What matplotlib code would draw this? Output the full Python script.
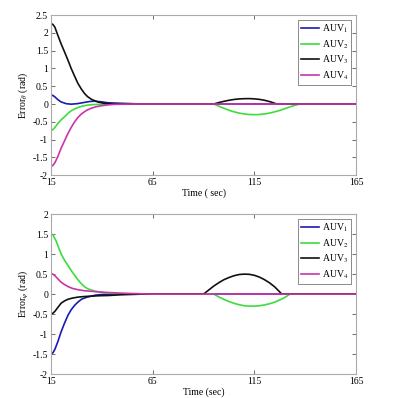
import matplotlib
matplotlib.use('Agg')
import matplotlib.pyplot as plt

plt.rcParams['font.family'] = ['Liberation Serif', 'DejaVu Serif']
plt.rcParams['mathtext.fontset'] = 'stix'

labels = ['AUV$_1$', 'AUV$_2$', 'AUV$_3$', 'AUV$_4$']
colors = ['#1a1ab4', '#3ddc3d', '#111111', '#cc33aa']

# top panel: theta error
t1_auv1 = [15, 16, 17, 18.5, 20, 22.5, 25, 28, 31, 34, 36.5, 40, 43, 49.5, 60, 165]
e1_auv1 = [0.25, 0.24, 0.2, 0.12, 0.06, 0.01, -0.005, 0.01, 0.04, 0.07, 0.08, 0.06, 0.035, 0.02, 0.0, 0.0]
t1_auv2 = [15, 16, 17, 18.4, 20, 21.7, 23.5, 25, 26.7, 28.3, 30.5, 33.2, 36, 39.8, 50,
           95, 97.5, 100, 102.5, 105, 107.5, 110, 112.5, 115, 117.5, 120, 122.5, 125, 127.5,
           130, 132.5, 135, 137.5, 165]
e1_auv2 = [-0.74, -0.72, -0.66, -0.55, -0.45, -0.36, -0.26, -0.19, -0.14, -0.1, -0.06, -0.03, -0.015, -0.01, 0.0,
           0.0, -0.06, -0.12, -0.175, -0.22, -0.255, -0.28, -0.295, -0.3, -0.295, -0.28, -0.255,
           -0.22, -0.18, -0.13, -0.08, -0.035, 0.0, 0.0]
t1_auv3 = [15, 16, 17, 18.4, 20, 21.7, 23.5, 25, 26.7, 28.3, 30, 31.5, 33, 35, 38, 41, 45, 50,
           95, 97.5, 100, 102.5, 105, 107.5, 110, 112.5, 115, 117.5, 120, 123, 126, 165]
e1_auv3 = [2.26, 2.24, 2.16, 1.94, 1.7, 1.47, 1.22, 1.0, 0.78, 0.58, 0.42, 0.3, 0.21, 0.13, 0.06, 0.02, 0.005, 0.0,
           0.0, 0.04, 0.075, 0.105, 0.128, 0.143, 0.15, 0.152, 0.145, 0.13, 0.105, 0.06, 0.0, 0.0]
t1_auv4 = [15, 16, 17, 18.5, 20, 21.7, 23.4, 25, 26.7, 28.3, 30, 32.5, 34.8, 37, 39.7, 43, 46, 55, 165]
e1_auv4 = [-1.75, -1.73, -1.65, -1.47, -1.25, -1.04, -0.83, -0.66, -0.5, -0.38, -0.28, -0.18, -0.12, -0.08,
           -0.05, -0.025, -0.01, 0.0, 0.0]

# bottom panel: psi error
t2_auv1 = [15, 16, 17, 18.5, 20, 21.7, 23.4, 25, 26.7, 28.3, 30, 32.5, 34.9, 37, 39.8, 48, 165]
e2_auv1 = [-1.49, -1.47, -1.38, -1.18, -0.95, -0.73, -0.53, -0.39, -0.28, -0.2, -0.13, -0.08, -0.05,
           -0.025, -0.01, 0.0, 0.0]
t2_auv2 = [15, 16, 17.6, 19, 20.1, 21.7, 23.4, 25, 26.7, 28.3, 30, 31.7, 33.3, 36.6, 41.5, 48, 55,
           95, 97.5, 100, 102.5, 105, 107.5, 110, 112.5, 115, 117.5, 120, 122.5, 125, 127.5,
           130, 132.5, 165]
e2_auv2 = [1.51, 1.48, 1.33, 1.14, 1.0, 0.85, 0.72, 0.59, 0.47, 0.36, 0.26, 0.18, 0.13, 0.075, 0.03, 0.01, 0.0,
           0.0, -0.07, -0.13, -0.185, -0.23, -0.265, -0.29, -0.3, -0.3, -0.29, -0.27, -0.24,
           -0.2, -0.145, -0.08, 0.0, 0.0]
t2_auv3 = [15, 16, 17, 18.5, 20, 21.7, 23.4, 25.5, 28.3, 31.5, 34.9, 39, 43, 50, 60,
           90, 92.5, 95, 97.5, 100, 102.5, 105, 107.5, 110, 112.5, 115, 117.5, 120, 122.5,
           125, 128.5, 165]
e2_auv3 = [-0.49, -0.48, -0.43, -0.33, -0.23, -0.17, -0.13, -0.1, -0.075, -0.06, -0.05, -0.04, -0.035, -0.015, 0.0,
           0.0, 0.1, 0.2, 0.285, 0.36, 0.415, 0.46, 0.49, 0.5, 0.495, 0.47, 0.425, 0.36, 0.28,
           0.18, 0.0, 0.0]
t2_auv4 = [15, 16, 17, 18.5, 20, 21.7, 23.4, 25.5, 28.3, 31.5, 34.9, 39, 43, 52, 65, 165]
e2_auv4 = [0.51, 0.5, 0.46, 0.38, 0.3, 0.24, 0.19, 0.145, 0.11, 0.085, 0.07, 0.055, 0.04, 0.02, 0.0, 0.0]

xticks = [15, 65, 115, 165]

fig = plt.figure(figsize=(3.94, 3.98), dpi=100)
ax1 = fig.add_axes([0.129, 0.560, 0.775, 0.402])
ax2 = fig.add_axes([0.129, 0.060, 0.775, 0.402])

panels = [
    (ax1, [(t1_auv1, e1_auv1), (t1_auv2, e1_auv2), (t1_auv3, e1_auv3), (t1_auv4, e1_auv4)],
     (-2, 2.5), r'Error$_\theta$ (rad)', 'Time ( sec)'),
    (ax2, [(t2_auv1, e2_auv1), (t2_auv2, e2_auv2), (t2_auv3, e2_auv3), (t2_auv4, e2_auv4)],
     (-2, 2), r'Error$_\psi$ (rad)', 'Time (sec)'),
]

for ax, series, ylim, ylab, xlab in panels:
    for (t, e), lab, c in zip(series, labels, colors):
        ax.plot(t, e, color=c, lw=1.2, label=lab)
    ax.set_xlim(15, 165)
    ax.set_ylim(*ylim)
    ax.set_xticks(xticks)
    yt = []
    v = ylim[0]
    while v <= ylim[1] + 1e-9:
        yt.append(v)
        v += 0.5
    ax.set_yticks(yt)
    ax.set_yticklabels(['%g' % y for y in yt])
    ax.tick_params(direction='in', length=3, width=0.6, labelsize=7,
                   top=True, right=True, colors='#555555', labelcolor='black', pad=2)
    for s in ax.spines.values():
        s.set_color('#aaaaaa')
        s.set_linewidth(0.8)
    ax.set_ylabel(ylab, fontsize=7, labelpad=2)
    ax.set_xlabel(xlab, fontsize=7, labelpad=1)
    leg = ax.legend(loc='upper right', fontsize=7, handlelength=1.9, handletextpad=0.3,
                    labelspacing=0.3, borderpad=0.3, fancybox=False, framealpha=1,
                    borderaxespad=0.5)
    leg.get_frame().set_edgecolor('#777777')
    leg.get_frame().set_linewidth(0.6)

fig.savefig('out.png', dpi=100)
